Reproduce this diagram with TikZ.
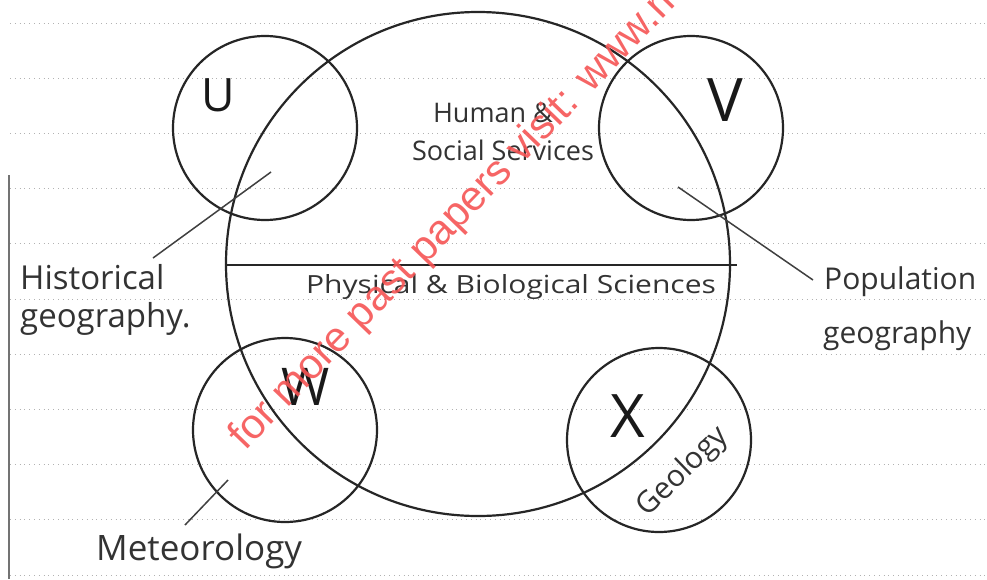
\documentclass[tikz,border=0pt]{standalone}
\usepackage{fontspec}
\usepackage{graphicx}
\setmainfont{Open Sans}
\newfontfamily\wmfont{Liberation Sans}
\begin{document}
\begin{tikzpicture}[x=1pt,y=-1pt,
  ring/.style={draw=black!85, line width=2.2pt, circle, inner sep=0pt, minimum size=#1},
  pointer/.style={draw=black!75, line width=1.5pt},
  paperline/.style={draw=black!30, line width=1pt, dash pattern=on 1pt off 3.8pt},
  hand/.style={text=black!80, inner sep=0pt, font=\fontsize{#1}{#1}\selectfont},
  letter/.style={text=black!90, inner sep=0pt, font=\fontsize{#1}{#1}\selectfont},
]
\useasboundingbox (0,0) rectangle (987,579);
\clip (0,0) rectangle (987,579);
\fill[white] (0,0) rectangle (987,579);
% ruled paper
\foreach \k in {0,...,10}{
  \draw[paperline] (10,{23+55.2*\k}) -- (987,{23+55.2*\k});
}
\draw[black!55, line width=2pt] (9,175) -- (9,579);
% circles
\node[ring=504pt] (big) at (478,264) {};
\node[ring=184pt] (U) at (265,128) {};
\node[ring=184pt] (V) at (691,128) {};
\node[ring=184pt] (W) at (285,430) {};
\node[ring=184pt] (X) at (659,440) {};
% dividing line
\coordinate (divend) at (737,265);
\draw[line width=2.2pt, black!85] (big.west |- divend) -- (divend);
% letters
\node[letter=46] (lU) at (218,95) {U};
\node[letter=60] (lV) at (725,100) {V};
\node[letter=52] (lW) at (306,387) {W};
\node[letter=60] (lX) at (628,416) {X};
% texts
\node[hand=27] (human) at (493,113) {Human \&};
\node[hand=27] (social) at (503,150) {Social Services};
\node[hand=25] (phys) at (511,287) {\scalebox{1.2}[1]{Physical \& Biological Sciences}};
\node[hand=33, anchor=base west] (hist1) at (20,289) {Historical};
\node[hand=33, anchor=base west] (hist2) at (20,327) {geography.};
\node[hand=30, anchor=base west] (pop1) at (824,289) {Population};
\node[hand=30, anchor=base west] (pop2) at (823,343) {geography};
\node[hand=35, anchor=base west] (met) at (96,560) {Meteorology};
\node[hand=30, rotate=44] (geo) at (683,472) {Geology};
% pointers
\coordinate (hs) at (271,172);
\coordinate (he) at (153,258);
\coordinate (ps) at (678,187);
\coordinate (pe) at (813,280);
\coordinate (ms) at (228,480);
\coordinate (me) at (185,525);
\draw[pointer] (hs) -- (he);
\draw[pointer] (ps) -- (pe);
\draw[pointer] (ms) -- (me);
% watermark
\node[anchor=base west, rotate=46, inner sep=0pt, text={rgb,255:red,246;green,85;blue,85}, opacity=0.9,
      font=\wmfont\fontsize{42}{42}\selectfont] (wm) at (245,452) {for more past papers visit: www.maxpapers.com};
\end{tikzpicture}
\end{document}
